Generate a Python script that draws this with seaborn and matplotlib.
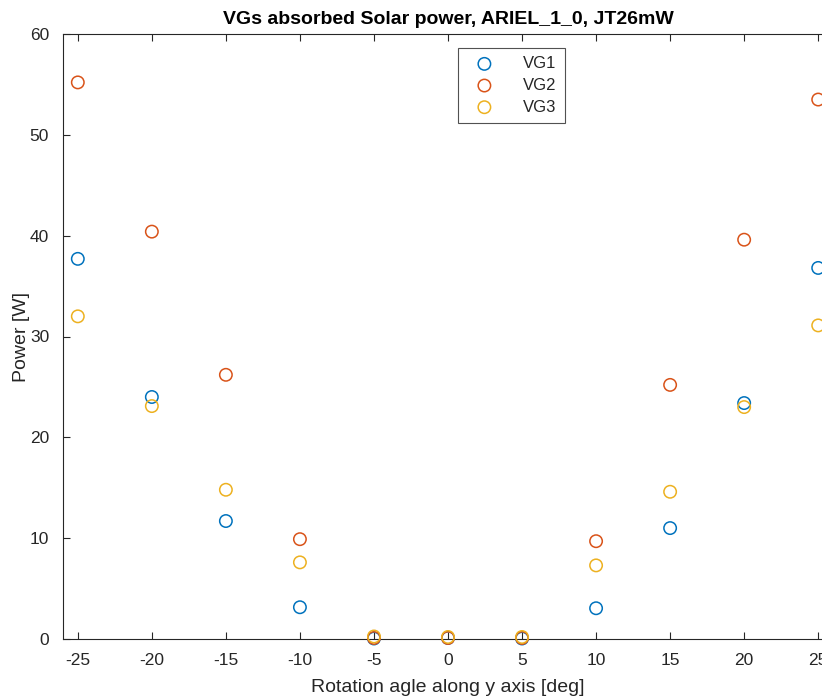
import matplotlib
matplotlib.use("Agg")
import matplotlib.pyplot as plt
import seaborn as sns
import pandas as pd

angles = [-25, -20, -15, -10, -5, 0, 5, 10, 15, 20, 25]
vg1 = [37.7, 24.0, 11.7, 3.15, 0.05, 0.1, 0.05, 3.05, 11.0, 23.4, 36.8]
vg2 = [55.2, 40.4, 26.2, 9.9, 0.1, 0.1, 0.1, 9.7, 25.2, 39.6, 53.5]
vg3 = [32.0, 23.1, 14.8, 7.6, 0.25, 0.2, 0.2, 7.3, 14.6, 23.0, 31.1]
series_names = ["VG1", "VG2", "VG3"]
colors = ["#0072BD", "#D95319", "#EDB120"]
xticks = [-25, -20, -15, -10, -5, 0, 5, 10, 15, 20, 25]
yticks = [0, 10, 20, 30, 40, 50, 60]

sns.set_style("white")
plt.rcParams["font.family"] = ["Liberation Sans", "DejaVu Sans"]
plt.rcParams["axes.unicode_minus"] = False
ac = "#262626"

fig = plt.figure(figsize=(8.22, 6.99), dpi=100)
ax = fig.add_axes([63/822, 60/699, 770/822, 605/699])

for name, vals, c in zip(series_names, [vg1, vg2, vg3], colors):
    d = pd.DataFrame({"angle": angles, "power": vals})
    sns.scatterplot(data=d, x="angle", y="power", marker="o", facecolors="none",
                    edgecolor=c, s=80, linewidth=1.1, ax=ax, label=name,
                    clip_on=False, zorder=3)

ax.set_xlim(-26, 26)
ax.set_ylim(0, 60)
ax.set_xticks(xticks)
ax.set_yticks(yticks)
ax.tick_params(direction="in", length=5, width=0.8, colors=ac, labelsize=12.5,
               top=True, right=True, bottom=True, left=True, pad=10)
for sp in ax.spines.values():
    sp.set_color(ac)
    sp.set_linewidth(0.8)
ax.set_xlabel("Rotation agle along y axis [deg]", fontsize=14, color=ac, labelpad=8)
ax.set_ylabel("Power [W]", fontsize=14, color=ac, labelpad=0)
ax.set_title("VGs absorbed Solar power, ARIEL_1_0, JT26mW", fontsize=14,
             fontweight="bold", color="black", pad=7)

handles, labels = ax.get_legend_handles_labels()
leg = ax.legend(handles, labels, loc="upper center", bbox_to_anchor=(0.582, 0.977),
                borderaxespad=0, frameon=True, fancybox=False, edgecolor=ac,
                fontsize=12, borderpad=0.5, handletextpad=1.2, labelspacing=0.4,
                handlelength=2.2)
leg.get_frame().set_linewidth(0.8)

fig.savefig("out.png", dpi=100)
